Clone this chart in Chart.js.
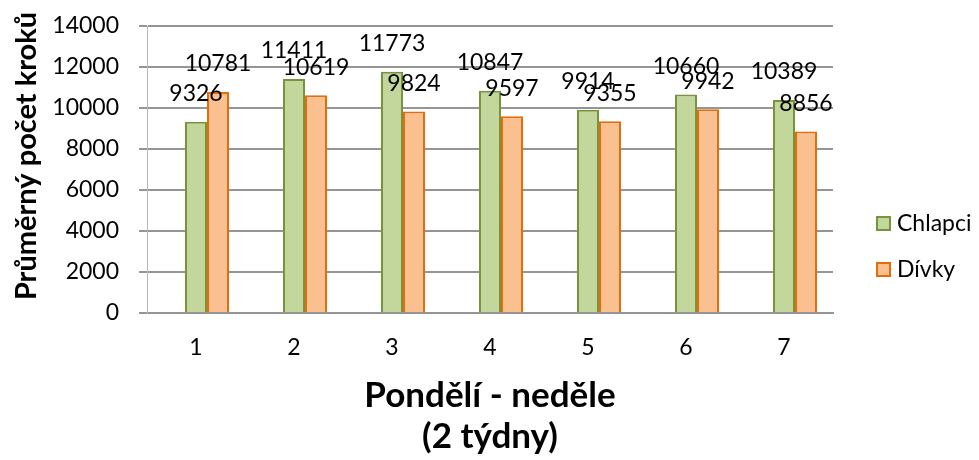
<!DOCTYPE html>
<html lang="cs">
<head>
<meta charset="utf-8">
<title>Průměrný počet kroků</title>
<script src="https://cdn.jsdelivr.net/npm/chart.js@4/dist/chart.umd.min.js"></script>
<style>
  html, body { margin: 0; padding: 0; background: #ffffff; }
  #wrap { width: 979px; height: 460px; position: relative; }
</style>
</head>
<body>
<div id="wrap"><canvas id="chart" width="979" height="460"></canvas></div>
<script>
// Days of the week (Monday..Sunday), averaged over two weeks
const days = ['1', '2', '3', '4', '5', '6', '7'];
const chlapci = [9326, 11411, 11773, 10847, 9914, 10660, 10389];
const divky = [10781, 10619, 9824, 9597, 9355, 9942, 8856];
const yMin = 0;
const yMax = 14000;
const yStep = 2000;
const yTitle = 'Průměrný počet kroků';
const xTitle = ['Pondělí - neděle', '(2 týdny)'];

const FONT = 'Lato, "Open Sans", sans-serif';
const TEXT_SIZE = 23;

// Value labels drawn above each bar
const valueLabels = {
  id: 'valueLabels',
  afterDatasetsDraw(chart) {
    const ctx = chart.ctx;
    ctx.save();
    ctx.font = TEXT_SIZE + 'px ' + FONT;
    ctx.fillStyle = '#000000';
    ctx.textAlign = 'center';
    ctx.textBaseline = 'middle';
    chart.data.datasets.forEach((ds, i) => {
      if (!ds.label) return;
      const meta = chart.getDatasetMeta(i);
      meta.data.forEach((bar, j) => {
        const v = ds.data[j];
        if (v == null) return;
        ctx.fillText(String(v), bar.x, bar.y - 28);
      });
    });
    ctx.restore();
  }
};

// Vertical axis title, rotated, left of the tick labels
const sideTitle = {
  id: 'sideTitle',
  afterDraw(chart) {
    const ctx = chart.ctx;
    ctx.save();
    ctx.translate(27, 156);
    ctx.rotate(-Math.PI / 2);
    ctx.font = 'bold 29px ' + FONT;
    ctx.fillStyle = '#000000';
    ctx.textAlign = 'center';
    ctx.textBaseline = 'middle';
    ctx.fillText(yTitle, 0, 0);
    ctx.restore();
  }
};

// Legend on the right: square swatch + series name
const sideLegend = {
  id: 'sideLegend',
  afterDraw(chart) {
    const ctx = chart.ctx;
    const rows = [224, 270];
    let r = 0;
    ctx.save();
    ctx.font = TEXT_SIZE + 'px ' + FONT;
    ctx.textBaseline = 'middle';
    ctx.textAlign = 'left';
    chart.data.datasets.forEach(ds => {
      if (!ds.label) return;
      const y = rows[r++];
      ctx.fillStyle = ds.backgroundColor;
      ctx.fillRect(877, y - 7, 13, 13);
      ctx.strokeStyle = ds.borderColor;
      ctx.lineWidth = 2;
      ctx.strokeRect(877, y - 7, 13, 13);
      ctx.fillStyle = '#000000';
      ctx.fillText(ds.label, 897, y);
    });
    ctx.restore();
  }
};

new Chart(document.getElementById('chart'), {
  type: 'bar',
  data: {
    labels: days,
    datasets: [
      // leading empty slot in each group
      { label: '', data: days.map(() => null), backgroundColor: 'rgba(0,0,0,0)' },
      {
        label: 'Chlapci',
        data: chlapci,
        backgroundColor: '#c3d69b',
        borderColor: '#77933c',
        borderWidth: 2
      },
      {
        label: 'Dívky',
        data: divky,
        backgroundColor: '#fac090',
        borderColor: '#e46c0a',
        borderWidth: 2
      }
    ]
  },
  options: {
    responsive: false,
    animation: false,
    devicePixelRatio: 1,
    categoryPercentage: 0.673,
    barPercentage: 1,
    layout: { padding: { top: 26, right: 146, bottom: 0, left: 0 } },
    plugins: {
      legend: { display: false },
      tooltip: { enabled: false }
    },
    scales: {
      x: {
        grid: { display: false, drawTicks: false },
        border: { display: true, color: '#959595', width: 2 },
        ticks: { color: '#000000', font: { family: FONT, size: TEXT_SIZE }, padding: 21 },
        title: {
          display: true,
          text: xTitle,
          color: '#000000',
          font: { family: FONT, size: 35, weight: 'bold', lineHeight: 1.17 },
          padding: { top: 0, bottom: 2.5 }
        },
        afterFit(scale) { scale.height = 147; }
      },
      y: {
        min: yMin,
        max: yMax,
        ticks: {
          stepSize: yStep,
          color: '#000000',
          font: { family: FONT, size: TEXT_SIZE },
          padding: 20,
          callback: (v) => String(v)
        },
        grid: { color: '#959595', lineWidth: 2, tickLength: 8 },
        border: { display: true, color: '#b8b8b8', width: 1 },
        afterFit(scale) {
          scale.width = 147;
          scale.paddingTop = 0;
          scale.paddingBottom = 0;
        }
      }
    }
  },
  plugins: [valueLabels, sideTitle, sideLegend]
});
</script>
</body>
</html>
